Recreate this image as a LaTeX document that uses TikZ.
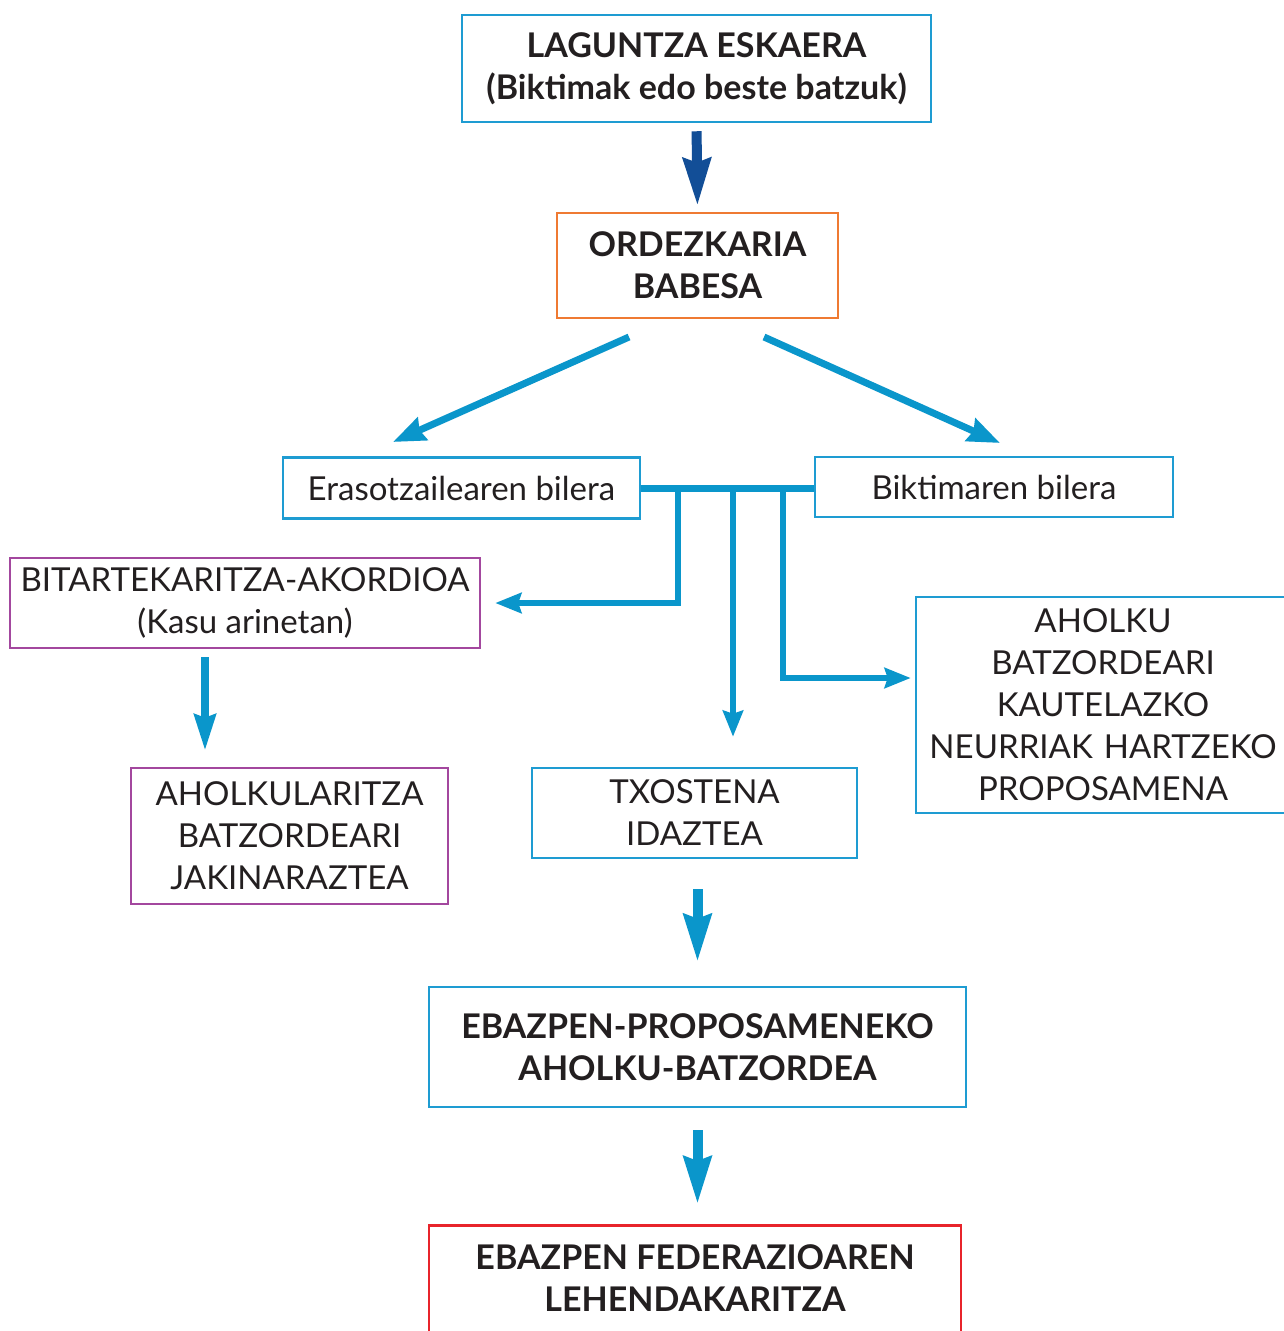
\documentclass[tikz,border=0pt]{standalone}
\usepackage{fontspec}
\setmainfont{Lato}
\usetikzlibrary{arrows.meta,calc}
\definecolor{cblue}{HTML}{0A96CB}
\definecolor{bblue}{HTML}{1E9CD2}
\definecolor{dblue}{HTML}{124E97}
\definecolor{corange}{HTML}{EF7A32}
\definecolor{cpurple}{HTML}{A3479E}
\definecolor{cred}{HTML}{E8242B}
\definecolor{ctext}{HTML}{231F20}
\begin{document}
\begin{tikzpicture}[x=1pt,y=-1pt,
  box/.style={draw=bblue,line width=2.5pt,inner sep=0pt,align=center,
    font=\fontsize{33}{42}\selectfont,text=ctext},
  bbox/.style={box,font=\fontsize{34}{42}\selectfont\bfseries},
  bigarrow/.style={draw=cblue,line width=10pt,-{Stealth[length=47pt,width=27pt,inset=4pt]}},
  midarrow/.style={draw=cblue,line width=8pt,-{Stealth[length=36pt,width=21pt,inset=3pt]}},
  diag/.style={draw=cblue,line width=7pt,-{Stealth[length=32pt,width=24pt,inset=3pt]}},
  branch/.style={draw=cblue,line width=6pt},
  brarrow/.style={branch,-{Stealth[length=26pt,width=20pt,inset=3pt]}}]
\useasboundingbox (0,0) rectangle (1284,1331);
\fill[white] (0,0) rectangle (1284,1331);

\node[bbox,minimum width=469pt,minimum height=107pt] (n1) at (696.5,68.5)
  {LAGUNTZA ESKAERA\\(Biktimak edo beste batzuk)};
\node[bbox,draw=corange,minimum width=281pt,minimum height=105pt] (n2) at (697.5,265.5)
  {ORDEZKARIA\\BABESA};
\node[box,minimum width=357pt,minimum height=61pt] (n3) at (461.5,488)
  {Erasotzailearen bilera};
\node[box,minimum width=358pt,minimum height=60pt] (n4) at (994,487)
  {Biktimaren bilera};
\node[box,draw=cpurple,minimum width=470pt,minimum height=90pt] (n5) at (245,603)
  {BITARTEKARITZA-AKORDIOA\\(Kasu arinetan)};
\node[box,draw=cpurple,minimum width=317pt,minimum height=136pt] (n6) at (289.5,836)
  {AHOLKULARITZA\\BATZORDEARI\\JAKINARAZTEA};
\node[box,minimum width=325pt,minimum height=90pt] (n7) at (694.5,813)
  {TXOSTENA\\IDAZTEA};
\node[box,minimum width=374pt,minimum height=216pt,text width=374pt] (n8) at (1103,705)
  {AHOLKU\\BATZORDEARI\\KAUTELAZKO\\NEURRIAK HARTZEKO\\PROPOSAMENA};
\node[bbox,minimum width=537pt,minimum height=120pt] (n9) at (697.5,1047)
  {EBAZPEN-PROPOSAMENEKO\\AHOLKU-BATZORDEA};
\node[bbox,draw=cred,minimum width=532pt,minimum height=116pt,anchor=north] (n10) at (695,1224)
  {};
\node[font=\fontsize{34}{42}\selectfont\bfseries,text=ctext,align=center] (n10t) at (695,1278)
  {EBAZPEN FEDERAZIOAREN\\LEHENDAKARITZA};

% top arrow
\draw[bigarrow,draw=dblue,shorten <=8pt,shorten >=6pt] (n1.south) -- (n2.north);

% diagonals
\coordinate (d1s) at (629,337);
\coordinate (d1e) at (393,442);
\coordinate (d2s) at (764,337);
\coordinate (d2e) at (1000,443);
\draw[diag] (d1s) -- (d1e);
\draw[diag] (d2s) -- (d2e);

% horizontal bar
\draw[branch,line width=7pt] (n3.east) -- (n3.east -| n4.west);
\coordinate (b1) at (678,488);
\coordinate (b2) at (733,488);
\coordinate (b3) at (783,488);
\draw[brarrow,shorten >=14pt] (b1) |- (n5.east);
\draw[brarrow,shorten >=30pt] (b2) -- (b2 |- n7.north);
\draw[brarrow,shorten >=4pt] (b3) |- ([yshift=27pt]n8.west);

% 5 -> 6
\draw[midarrow,shorten <=8pt,shorten >=16pt] ([xshift=-40pt]n5.south) -- ([xshift=-40pt]n5.south |- n6.north);

% 7 -> 9 , 9 -> 10
\draw[bigarrow,shorten <=30pt,shorten >=24pt] (n7.south -| n9.north) -- (n9.north);
\draw[bigarrow,shorten <=22pt,shorten >=20pt] (n9.south) -- (n9.south |- n10.north);
\end{tikzpicture}
\end{document}
